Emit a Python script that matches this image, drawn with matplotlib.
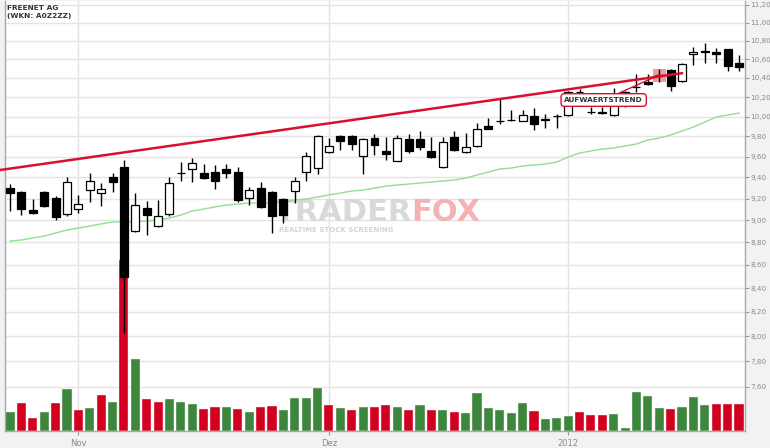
import numpy as np
import matplotlib
matplotlib.use("Agg")
import matplotlib.pyplot as plt
import matplotlib.transforms as mtransforms
from matplotlib.ticker import FuncFormatter, NullLocator, NullFormatter

# ---------------- data ----------------
opens = [9.299, 9.262, 9.094, 9.262, 9.205, 9.057, 9.103, 9.280, 9.252, 9.404,
         9.500, 8.902, 9.112, 8.947, 9.057, 9.440, 9.481, 9.442, 9.452, 9.481,
         9.452, 9.205, 9.299, 9.262, 9.196, 9.271, 9.452, 9.490, 9.646, 9.804,
         9.804, 9.607, 9.784, 9.656, 9.558, 9.774, 9.774, 9.656, 9.500, 9.794,
         9.646, 9.705, 9.904, 9.955, 9.963, 9.955, 10.005, 9.965, 10.005, 10.015,
         10.252, 10.046, 10.046, 10.015, 10.252, 10.300, 10.357, 10.428, 10.484, 10.368,
         10.656, 10.688, 10.678, 10.710, 10.559]
highs = [9.337, 9.270, 9.196, 9.271, 9.224, 9.404, 9.234, 9.442, 9.347, 9.442,
         9.568, 9.252, 9.177, 9.187, 9.404, 9.548, 9.587, 9.529, 9.519, 9.529,
         9.500, 9.309, 9.356, 9.271, 9.205, 9.404, 9.646, 9.814, 9.784, 9.814,
         9.814, 9.784, 9.824, 9.794, 9.814, 9.824, 9.854, 9.794, 9.794, 9.854,
         9.834, 9.934, 9.990, 10.190, 10.066, 10.066, 10.087, 10.026, 10.026, 10.260,
         10.284, 10.097, 10.097, 10.294, 10.260, 10.442, 10.442, 10.495, 10.490, 10.559,
         10.732, 10.776, 10.720, 10.710, 10.645]
lows = [9.085, 9.048, 9.057, 9.122, 9.002, 9.039, 9.066, 9.168, 9.131, 9.262,
        8.025, 8.893, 8.866, 8.938, 9.039, 9.366, 9.356, 9.385, 9.290, 9.394,
        9.168, 9.140, 9.112, 8.884, 8.975, 9.159, 9.366, 9.433, 9.636, 9.665,
        9.665, 9.433, 9.616, 9.568, 9.558, 9.636, 9.665, 9.590, 9.495, 9.656,
        9.640, 9.695, 9.870, 9.924, 9.955, 9.955, 9.864, 9.884, 9.884, 10.010,
        10.240, 10.026, 10.026, 10.005, 10.097, 10.252, 10.330, 10.357, 10.263, 10.357,
        10.538, 10.559, 10.559, 10.473, 10.473]
closes = [9.252, 9.103, 9.066, 9.131, 9.029, 9.356, 9.149, 9.366, 9.290, 9.356,
          8.495, 9.140, 9.048, 9.039, 9.347, 9.445, 9.539, 9.394, 9.366, 9.442,
          9.187, 9.280, 9.122, 9.039, 9.048, 9.366, 9.607, 9.804, 9.705, 9.754,
          9.725, 9.774, 9.715, 9.626, 9.784, 9.656, 9.695, 9.597, 9.744, 9.665,
          9.695, 9.874, 9.874, 9.957, 9.965, 10.015, 9.924, 9.970, 10.008, 10.252,
          10.250, 10.044, 10.040, 10.138, 10.242, 10.305, 10.336, 10.431, 10.315, 10.548,
          10.678, 10.678, 10.656, 10.527, 10.516]
moving_avg = [8.812, 8.821, 8.839, 8.857, 8.884, 8.911, 8.929, 8.947, 8.966, 8.984,
              8.984, 8.984, 8.993, 9.002, 9.020, 9.048, 9.085, 9.103, 9.122, 9.140,
              9.149, 9.159, 9.159, 9.159, 9.168, 9.187, 9.196, 9.215, 9.234, 9.252,
              9.271, 9.280, 9.299, 9.318, 9.328, 9.337, 9.347, 9.356, 9.366, 9.375,
              9.394, 9.423, 9.452, 9.481, 9.490, 9.510, 9.519, 9.529, 9.548, 9.597,
              9.636, 9.656, 9.675, 9.685, 9.705, 9.725, 9.764, 9.784, 9.814, 9.854,
              9.894, 9.944, 9.995, 10.015, 10.036]
volumes = [190, 280, 130, 190, 280, 420, 210, 230, 360, 290,
           1710, 720, 320, 290, 320, 290, 270, 220, 240, 240,
           220, 190, 240, 250, 210, 330, 330, 430, 260, 230,
           210, 240, 240, 260, 240, 210, 260, 210, 210, 190,
           180, 380, 230, 210, 180, 280, 200, 120, 130, 150,
           190, 160, 160, 170, 30, 390, 350, 230, 220, 240,
           340, 260, 270, 270, 270]
month_pos = [6, 28, 49]
month_labels = ["Nov", "Dez", "2012"]
price_ticks = [7.6, 7.8, 8.0, 8.2, 8.4, 8.6, 8.8, 9.0, 9.2, 9.4, 9.6, 9.8,
               10.0, 10.2, 10.4, 10.6, 10.8, 11.0, 11.2]
trend_x = [-0.88, 59.1]
trend_y = [9.471, 10.452]
signal_idx = 57
title_lines = ["FREENET AG", "(WKN: A0Z2ZZ)"]
annotation_text = "AUFWAERTSTREND"

# ---------------- styling ----------------
RED = "#d2001e"
GREEN = "#3d873d"
TREND = "#d8102e"
VOL_AXIS_MAX = 4310.0

fig = plt.figure(figsize=(7.7, 4.48), dpi=100, facecolor="#f2f2f2")
ax = fig.add_axes([5 / 770, 17 / 448, 740 / 770, 430 / 448])
ax.set_facecolor("white")

x = np.arange(len(closes))
o = np.array(opens); c = np.array(closes); h = np.array(highs); l = np.array(lows)

# volume (colour by close vs previous close)
vol_colors = [GREEN] + [GREEN if c[i] >= c[i - 1] else RED for i in range(1, len(c))]
trans = mtransforms.blended_transform_factory(ax.transData, ax.transAxes)
ax.bar(x, np.array(volumes) / VOL_AXIS_MAX, bottom=0, width=0.8, color=vol_colors,
       edgecolor="#f4f4f4", linewidth=0.3, transform=trans, zorder=2)

# watermark
ax.text(275 / 770, 1 - 221 / 448, "TRADER", transform=fig.transFigure, fontsize=22,
        fontweight="bold", color="#d9d9d9", ha="left", va="baseline", zorder=1.5)
ax.text(411 / 770, 1 - 221 / 448, "FOX", transform=fig.transFigure, fontsize=22,
        fontweight="bold", color="#f3b3b3", ha="left", va="baseline", zorder=1.5)
ax.text(279 / 770, 1 - 229.5 / 448, "REALTIME STOCK SCREENING", transform=fig.transFigure,
        fontsize=5.0, fontweight="bold", color="#d4d4d4", ha="left", va="center", zorder=1.5)

# moving average
ax.plot(x, moving_avg, color="#93de93", lw=1.0, zorder=3)

# highlight of the signal candle
ax.bar(signal_idx, h[signal_idx] - l[signal_idx], bottom=l[signal_idx], width=1.15,
       color="#f07a7a", alpha=0.75, zorder=3.5)

# candles
ax.vlines(x, l, h, color="black", lw=1.0, zorder=4)
up = c >= o
body_bottom = np.minimum(o, c)
body_height = np.maximum(np.abs(c - o), 1e-4)
ax.bar(x, body_height, bottom=body_bottom, width=0.7,
       color=["white" if u else "black" for u in up], edgecolor="black",
       linewidth=0.9, zorder=5)

# trend line
ax.plot(trend_x, trend_y, color=TREND, lw=1.8, zorder=6, clip_on=False, solid_capstyle="butt")

# annotation
ax.annotate(annotation_text, xy=(signal_idx, c[signal_idx]), xytext=(-40, -18),
            textcoords="offset points", fontsize=5.3, fontweight="bold", color="#333333",
            ha="center", va="center",
            bbox=dict(boxstyle="round,pad=0.45", fc="white", ec=TREND, lw=1.0),
            arrowprops=dict(arrowstyle="-", color=TREND, lw=1.0, shrinkA=0, shrinkB=0),
            zorder=8)

# axes setup
ax.set_yscale("log")
ax.set_ylim(7.265, 11.2456)
ax.set_xlim(-0.44, 64.53)
ax.yaxis.tick_right()
ax.set_yticks(price_ticks)
ax.yaxis.set_major_formatter(FuncFormatter(lambda v, _: f"{v:.2f}".replace(".", ",")))
ax.yaxis.set_minor_locator(NullLocator())
ax.yaxis.set_minor_formatter(NullFormatter())
ax.set_xticks(month_pos)
ax.set_xticklabels(month_labels)
ax.grid(True, color="#e4e4e4", lw=1.0, zorder=0)
ax.set_axisbelow(True)
ax.tick_params(axis="y", length=3, color="#999999", labelcolor="#8a8a8a", labelsize=5.2, pad=1)
ax.tick_params(axis="x", length=3, color="#999999", labelcolor="#8a8a8a", labelsize=6.0, pad=3)
for side in ["left", "bottom", "right"]:
    ax.spines[side].set_color("#a8a8a8")
    ax.spines[side].set_linewidth(1.0)
ax.spines["top"].set_visible(False)

# title
fig.text(7 / 770, 1 - 8 / 448, title_lines[0], fontsize=5.3, fontweight="bold",
         color="#333333", ha="left", va="center")
fig.text(7 / 770, 1 - 16 / 448, title_lines[1], fontsize=5.3, fontweight="bold",
         color="#333333", ha="left", va="center")

fig.savefig("out.png", dpi=100, facecolor=fig.get_facecolor())
